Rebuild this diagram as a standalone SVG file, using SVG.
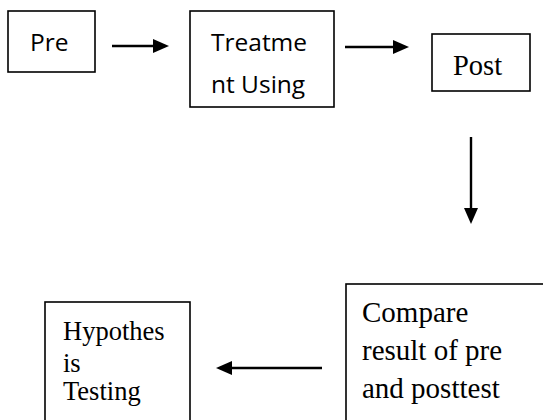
<svg xmlns="http://www.w3.org/2000/svg" width="543" height="420" viewBox="0 0 543 420">
<style>
.box{fill:#fff;stroke:#000;stroke-width:1.6}
.sans{font-family:"Open Sans","Liberation Sans",sans-serif;font-size:24.5px;fill:#000}
.serif{font-family:"Liberation Serif","Times New Roman",serif;fill:#000}
.conn{stroke:#000;stroke-width:2.4;fill:none}
.head{fill:#000}
</style>
<rect width="543" height="420" fill="#fff"/>
<g id="pre">
<rect class="box" x="8" y="11" width="87" height="61"/>
<text class="sans" x="30" y="50.5">Pre</text>
</g>
<g id="treatment">
<rect class="box" x="190" y="11" width="144" height="96"/>
<text class="sans" x="211" y="51">Treatme</text>
<text class="sans" x="211" y="93">nt Using</text>
</g>
<g id="post">
<rect class="box" x="432" y="34" width="98" height="57"/>
<text class="serif" x="453" y="75" font-size="28.5">Post</text>
</g>
<g id="compare">
<rect class="box" x="346" y="284" width="210" height="150"/>
<text class="serif" font-size="29" x="362" y="322">Compare</text>
<text class="serif" font-size="29" x="362" y="360">result of pre</text>
<text class="serif" font-size="29" x="362" y="398">and posttest</text>
</g>
<g id="hypothesis">
<rect class="box" x="45" y="302" width="145" height="130"/>
<text class="serif" font-size="26.5" x="63" y="340">Hypothes</text>
<text class="serif" font-size="26.5" x="63" y="372">is</text>
<text class="serif" font-size="26.5" x="63" y="400">Testing</text>
</g>
<g id="connectors">
<line class="conn" x1="112" y1="46" x2="155" y2="46"/>
<polygon class="head" points="153,39 169,46 153,53"/>
<line class="conn" x1="345" y1="47" x2="395" y2="47"/>
<polygon class="head" points="393,40 409,47 393,54"/>
<line class="conn" x1="471" y1="137" x2="471" y2="210"/>
<polygon class="head" points="464,208 478,208 471,224"/>
<line class="conn" x1="322" y1="368" x2="230" y2="368"/>
<polygon class="head" points="232,361 216,368 232,375"/>
</g>
</svg>
